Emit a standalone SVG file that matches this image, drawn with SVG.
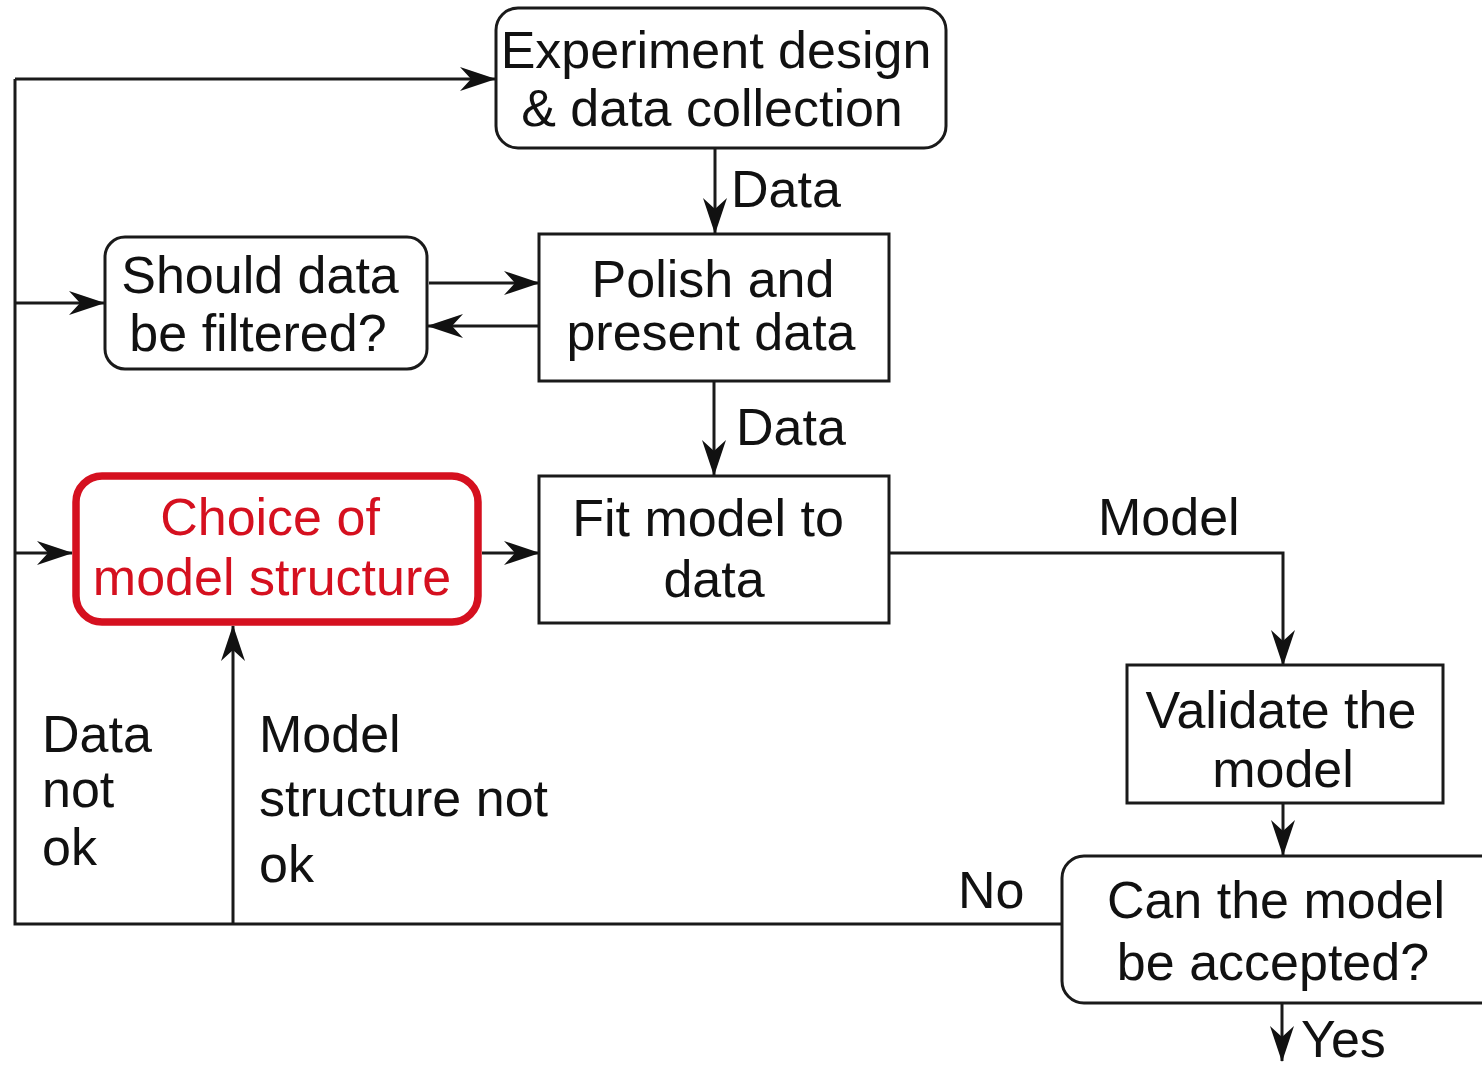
<svg xmlns="http://www.w3.org/2000/svg" width="1482" height="1069" viewBox="0 0 1482 1069">
<defs>
<marker id="ah" markerUnits="userSpaceOnUse" markerWidth="36" markerHeight="26" refX="35" refY="13" orient="auto" viewBox="0 0 36 26">
<path d="M0,1 L36,13 L0,25 L11,13 Z" fill="#111"/>
</marker>
<style>
.box{fill:#fff;stroke:#1a1a1a;stroke-width:3}
.red{fill:#fff;stroke:#d5101f;stroke-width:7.5}
.t{font-family:"Liberation Sans",Arial,sans-serif;font-size:52px;fill:#111}
.c{text-anchor:middle}
.rt{fill:#d5101f}
.ln{fill:none;stroke:#1a1a1a;stroke-width:3}
.ar{marker-end:url(#ah)}
</style>
</defs>
<rect width="1482" height="1069" fill="#fff"/>
<g id="connectors">
<path class="ln" d="M1062,924 L15,924 L15,79"/>
<path class="ln ar" d="M15,79 L495,79"/>
<path class="ln ar" d="M15,303 L104,303"/>
<path class="ln ar" d="M15,553 L72,553"/>
<path class="ln ar" d="M233,924 L233,626"/>
<path class="ln ar" d="M715,148 L715,233"/>
<path class="ln ar" d="M429,283 L539,283"/>
<path class="ln ar" d="M539,326 L428,326"/>
<path class="ln ar" d="M714,381 L714,475"/>
<path class="ln ar" d="M482,553 L539,553"/>
<path class="ln ar" d="M889,553 L1283,553 L1283,665"/>
<path class="ln ar" d="M1283,803 L1283,855"/>
<path class="ln ar" d="M1282,1003 L1282,1061"/>
<text class="t" x="731" y="207">Data</text>
<text class="t" x="736" y="445">Data</text>
<text class="t" x="1098" y="535">Model</text>
<text class="t" x="958" y="908">No</text>
<text class="t" x="1301" y="1057">Yes</text>
<text class="t" x="42" y="752">Data</text>
<text class="t" x="42" y="807">not</text>
<text class="t" x="42" y="865">ok</text>
<text class="t" x="259" y="752">Model</text>
<text class="t" x="259" y="816">structure not</text>
<text class="t" x="259" y="882">ok</text>
</g>
<g id="experiment">
<rect class="box" x="496" y="8" width="450" height="140" rx="22"/>
<text class="t c" x="716" y="68">Experiment design</text>
<text class="t c" x="712" y="126">&amp; data collection</text>
</g>
<g id="polish">
<rect class="box" x="539" y="234" width="350" height="147"/>
<text class="t c" x="713" y="297">Polish and</text>
<text class="t c" x="711" y="350">present data</text>
</g>
<g id="filter">
<rect class="box" x="105" y="237" width="322" height="132" rx="20"/>
<text class="t c" x="260" y="293">Should data</text>
<text class="t c" x="258" y="351">be filtered?</text>
</g>
<g id="choice">
<rect class="red" x="76" y="476" width="402" height="146" rx="26"/>
<text class="t c rt" x="270" y="535">Choice of</text>
<text class="t c rt" x="272" y="595">model structure</text>
</g>
<g id="fit">
<rect class="box" x="539" y="476" width="350" height="147"/>
<text class="t c" x="708" y="536">Fit model to</text>
<text class="t c" x="714" y="597">data</text>
</g>
<g id="validate">
<rect class="box" x="1127" y="665" width="316" height="138"/>
<text class="t c" x="1281" y="728">Validate the</text>
<text class="t c" x="1283" y="787">model</text>
</g>
<g id="accept">
<rect class="box" x="1062" y="856" width="460" height="147" rx="22"/>
<text class="t c" x="1276" y="918">Can the model</text>
<text class="t c" x="1273" y="980">be accepted?</text>
</g>
</svg>
